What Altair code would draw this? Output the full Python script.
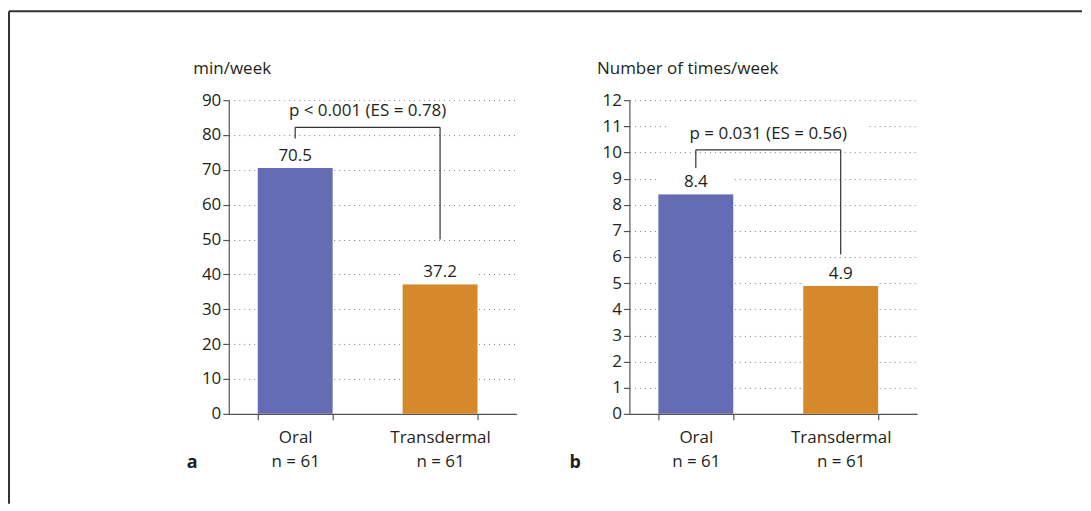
import altair as alt
import pandas as pd

# ---------------- data ----------------
groups = ["Oral", "Transdermal"]
n_sizes = [61, 61]
bar_colors = ["#646db3", "#d6892b"]

# panel a
a_values = [70.5, 37.2]
a_ticks = [0, 10, 20, 30, 40, 50, 60, 70, 80, 90]
a_title = "min/week"
a_ptext = "p < 0.001 (ES = 0.78)"
a_bracket = [82.2, 79.0, 50.0]   # top, left leg end, right leg end
a_text_y = 86.8

# panel b
b_values = [8.4, 4.9]
b_ticks = [0, 1, 2, 3, 4, 5, 6, 7, 8, 9, 10, 11, 12]
b_title = "Number of times/week"
b_ptext = "p = 0.031 (ES = 0.56)"
b_bracket = [10.1, 9.4, 6.1]
b_text_y = 10.7

FONT = "Open Sans"
FS = 17
TXT = "#231f20"
AX = "#555555"

label_expr = " : ".join(
    [f"datum.label == '{g}' ? ['{g}', 'n = {n}']" for g, n in zip(groups, n_sizes)]
) + " : datum.label"

W, H = 288, 314
STEP = 145


def xscale():
    return alt.Scale(domain=groups, paddingInner=0.483, paddingOuter=0.2345, align=0.426)


def xaxis():
    return alt.Axis(
        title=None, labelAngle=0, tickBand="extent", labelExpr=label_expr,
        labelFontSize=FS, labelColor=TXT, labelFont=FONT, labelPadding=10,
        labelLineHeight=24, labelBaseline="top",
        domainColor=AX, tickColor=AX, tickSize=6, domainWidth=1.2, tickWidth=1.2,
        grid=False)


def yaxis(ticks, title, title_x):
    return alt.Axis(
        values=ticks, title=title, titleAngle=0, titleAlign="left",
        titleBaseline="alphabetic", titleX=title_x, titleY=-27,
        titleFontSize=FS, titleFontWeight="normal", titleColor=TXT, titleFont=FONT,
        labelFontSize=FS, labelColor=TXT, labelFont=FONT, labelPadding=2,
        labelOverlap=False,
        domainColor=AX, tickColor=AX, tickSize=6, domainWidth=1.2, tickWidth=1.2,
        grid=True, gridColor="#7a7a7a", gridDash=[1, 4], gridWidth=1)


def panel(values, ticks, title, title_x, ptext, bracket, text_y, letter, letter_x, frame=False):
    ymax = ticks[-1]

    def Y(field):
        return alt.Y(field, scale=alt.Scale(domain=[0, ymax], nice=False),
                     axis=yaxis(ticks, title, title_x))

    def X(field):
        return alt.X(field, scale=xscale(), axis=xaxis())

    df = pd.DataFrame({"group": groups, "value": values, "color": bar_colors})

    bars = alt.Chart(df).mark_bar().encode(
        x=X("group:N"), y=Y("value:Q"),
        color=alt.Color("color:N", scale=None),
    )

    label_box = alt.Chart(df).mark_bar(color="white", y2Offset=-24).encode(
        x=X("group:N"), y=Y("value:Q"), y2=alt.Y2("value"),
    )
    labels = alt.Chart(df).mark_text(
        baseline="alphabetic", dy=-7, fontSize=FS, font=FONT, color=TXT
    ).encode(
        x=X("group:N"), y=Y("value:Q"),
        text=alt.Text("value:Q", format=".1f"),
    )

    hdf = pd.DataFrame({"g1": [groups[0]], "g2": [groups[1]], "top": [bracket[0]]})
    hrule = alt.Chart(hdf).mark_rule(color="#333333", strokeWidth=1.2).encode(
        x=X("g1:N"), x2="g2:N", y=Y("top:Q"),
    )
    vdf = pd.DataFrame({"group": groups, "top": [bracket[0]] * 2, "end": bracket[1:]})
    vrule = alt.Chart(vdf).mark_rule(color="#333333", strokeWidth=1.2).encode(
        x=X("group:N"), y=Y("top:Q"), y2="end:Q",
    )

    tdf = pd.DataFrame({"group": [groups[0]], "ty": [text_y], "text": [ptext]})
    tbox = alt.Chart(tdf).mark_bar(color="white", size=200, xOffset=STEP / 2,
                                   yOffset=10, y2Offset=-10).encode(
        x=X("group:N"), y=Y("ty:Q"), y2="ty:Q",
    )
    ptxt = alt.Chart(tdf).mark_text(
        xOffset=STEP / 2, baseline="middle", fontSize=FS, font=FONT, color=TXT
    ).encode(
        x=X("group:N"), y=Y("ty:Q"), text="text:N",
    )

    let = alt.Chart(pd.DataFrame({"t": [letter]})).mark_text(
        align="left", baseline="alphabetic", fontSize=18, fontWeight="bold",
        font=FONT, color=TXT
    ).encode(x=alt.value(letter_x), y=alt.value(368), text="t:N")

    layers = [bars, label_box, labels, tbox, ptxt, hrule, vrule, let]

    if frame:
        fdf = pd.DataFrame({"k": [0]})
        f1 = alt.Chart(fdf).mark_rule(color="#333333", strokeWidth=2).encode(
            x=alt.value(-220), x2=alt.value(854), y=alt.value(-89))
        f2 = alt.Chart(fdf).mark_rule(color="#333333", strokeWidth=2).encode(
            x=alt.value(-220), y=alt.value(-89), y2=alt.value(404))
        layers += [f1, f2]

    return alt.layer(*layers).properties(width=W, height=H)


pa = panel(a_values, a_ticks, a_title, -36, a_ptext, a_bracket, a_text_y, "a", -42, frame=True)
pb = panel(b_values, b_ticks, b_title, -33, b_ptext, b_bracket, b_text_y, "b", -60)

chart = alt.hconcat(pa, pb, spacing=113, bounds="flush").properties(
    padding={"left": 0, "top": 2, "right": 0, "bottom": 0}
).configure(font=FONT).configure_view(stroke=None)

chart.save("out.html", embed_options={"renderer": "svg", "actions": False})
